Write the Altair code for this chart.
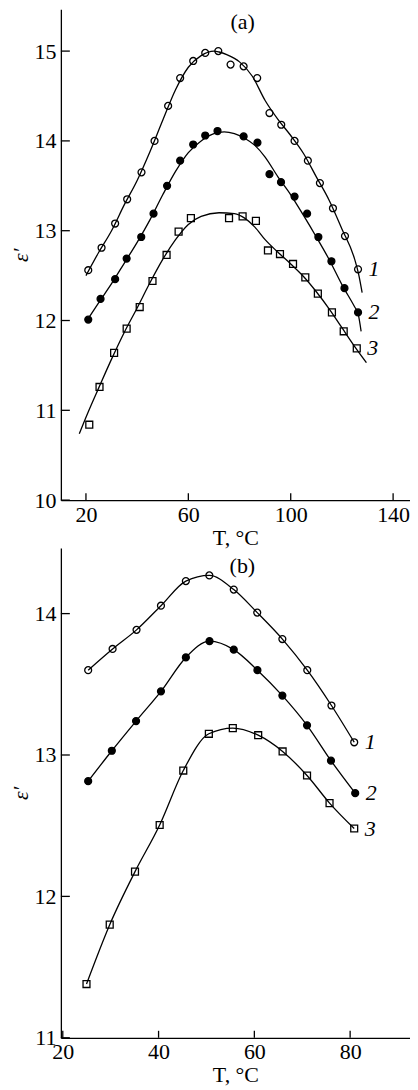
import altair as alt
import pandas as pd

FONT = "Liberation Serif"

# ---------------- Panel (a): measured points ----------------
a1_T = [20.9, 26.1, 31.4, 36.1, 41.7, 46.8, 52.1, 56.8, 61.9, 66.6, 71.7, 76.5, 81.6,
        86.9, 91.7, 96.3, 101.5, 106.7, 111.4, 116.5, 121.2, 126.3]
a1_e = [12.56, 12.81, 13.08, 13.35, 13.65, 14.00, 14.39, 14.70, 14.89, 14.98, 15.00, 14.85, 14.83,
        14.70, 14.31, 14.18, 14.00, 13.78, 13.53, 13.25, 12.94, 12.57]
a2_T = [20.9, 25.7, 31.4, 35.9, 41.6, 46.4, 51.7, 56.8, 61.9, 66.6, 71.4, 81.6, 87.0,
        91.7, 96.2, 101.5, 106.4, 110.8, 115.9, 121.0, 126.3]
a2_e = [12.01, 12.24, 12.46, 12.69, 12.93, 13.19, 13.50, 13.78, 13.96, 14.06, 14.11, 14.05, 13.98,
        13.63, 13.54, 13.38, 13.19, 12.93, 12.66, 12.36, 12.09]
a3_T = [21.3, 25.3, 31.0, 35.9, 41.0, 46.0, 51.5, 56.2, 61.0, 75.9, 81.2, 86.4, 91.1,
        95.8, 100.9, 105.7, 110.6, 116.1, 120.7, 125.8]
a3_e = [10.84, 11.26, 11.64, 11.91, 12.15, 12.44, 12.73, 12.99, 13.14, 13.14, 13.16, 13.11, 12.78,
        12.74, 12.63, 12.48, 12.30, 12.09, 11.88, 11.69]

# fitted curves of panel (a)
c1_T = [20, 25, 30, 35, 40, 45, 50, 55, 60, 65, 70, 72, 75, 80, 85, 90, 95, 100, 105, 110,
        115, 120, 125, 126.5, 127.9]
c1_e = [12.50, 12.76, 13.00, 13.29, 13.56, 13.88, 14.23, 14.57, 14.82, 14.95, 15.00, 14.99, 14.96,
        14.88, 14.72, 14.45, 14.24, 14.06, 13.86, 13.60, 13.34, 13.02, 12.68, 12.52, 12.31]
c2_T = [20.6, 25, 30, 35, 40, 45, 50, 55, 60, 65, 70, 74, 78, 82, 86, 90, 95, 100, 105, 110,
        115, 120, 125, 126.3, 127.5]
c2_e = [12.01, 12.20, 12.41, 12.64, 12.87, 13.12, 13.40, 13.66, 13.87, 14.00, 14.08, 14.10, 14.08,
        14.03, 13.95, 13.82, 13.60, 13.40, 13.17, 12.93, 12.68, 12.40, 12.15, 12.08, 11.88]
c3_T = [17.4, 21, 25, 30, 35, 40, 45, 50, 55, 60, 65, 72, 78, 82, 86, 90, 95, 100, 105, 110,
        115, 120, 125, 129.6]
c3_e = [10.74, 10.99, 11.25, 11.57, 11.87, 12.14, 12.42, 12.68, 12.90, 13.07, 13.16, 13.20, 13.19,
        13.14, 13.04, 12.90, 12.76, 12.63, 12.49, 12.32, 12.13, 11.92, 11.71, 11.53]

# ---------------- Panel (b): measured points ----------------
b1_T = [25.3, 30.4, 35.4, 40.5, 45.7, 50.6, 55.7, 60.6, 65.85, 71.05, 76.1, 80.85]
b1_e = [13.60, 13.75, 13.885, 14.056, 14.23, 14.27, 14.17, 14.007, 13.82, 13.60, 13.35, 13.09]
b2_T = [25.3, 30.24, 35.3, 40.5, 45.7, 50.64, 55.7, 60.64, 65.85, 71.0, 76.0, 81.06]
b2_e = [12.815, 13.03, 13.24, 13.45, 13.69, 13.805, 13.745, 13.60, 13.42, 13.21, 12.96, 12.73]
b3_T = [24.95, 29.8, 35.08, 40.23, 45.16, 50.5, 55.5, 60.8, 65.9, 71.0, 75.7, 80.85]
b3_e = [11.38, 11.80, 12.175, 12.505, 12.89, 13.15, 13.19, 13.14, 13.025, 12.855, 12.66, 12.48]

series_names = ["1", "2", "3"]
a_xticks = [20, 60, 100, 140]
a_yticks = [10, 11, 12, 13, 14, 15]
b_xticks = [20, 40, 60, 80]
b_yticks = [11, 12, 13, 14]
a_tag = {"T": [81.2], "eps": [15.32], "text": ["(a)"]}
b_tag = {"T": [57.5], "eps": [14.34], "text": ["(b)"]}


def frame(groups):
    rows = []
    for name, Ts, es in groups:
        for t, e in zip(Ts, es):
            rows.append({"T": t, "eps": e, "series": name})
    return pd.DataFrame(rows)


def last_points(groups):
    rows = []
    for name, Ts, es in groups:
        rows.append({"T": Ts[-1], "eps": es[-1], "series": name})
    return pd.DataFrame(rows)


def panel(pts_groups, curve_groups, xdom, ydom, xticks, yticks, W, H, tag, sq_size):
    pts = frame(pts_groups)
    curve = frame(curve_groups)
    labs = last_points(pts_groups)
    xs = alt.Scale(domain=xdom, nice=False, zero=False)
    ys = alt.Scale(domain=ydom, nice=False, zero=False)
    xaxis = alt.Axis(values=xticks, ticks=False, grid=False, labelFlush=False,
                     domainColor="black", domainWidth=1.3, labelFont=FONT, labelFontSize=22,
                     labelColor="black", labelPadding=4, title="T, °C", titleFont=FONT,
                     titleFontSize=22, titleFontWeight="normal", titleColor="black",
                     titlePadding=2)
    yaxis = alt.Axis(values=yticks, ticks=False, grid=False, labelFlush=False,
                     domainColor="black", domainWidth=1.3, labelFont=FONT, labelFontSize=22,
                     labelColor="black", labelPadding=5, title="ε′", titleFont=FONT,
                     titleFontSize=22, titleFontWeight="normal", titleFontStyle="italic",
                     titleColor="black", titlePadding=1)
    X = lambda f: alt.X(f, scale=xs, axis=xaxis, title="T, °C")
    Y = lambda f: alt.Y(f, scale=ys, axis=yaxis, title="ε′")

    line = alt.Chart(curve).mark_line(color="black", strokeWidth=1.3, interpolate="monotone").encode(
        x=X("T:Q"), y=Y("eps:Q"), detail="series:N",
    )
    points = alt.Chart(pts).mark_point(filled=True, stroke="black", strokeWidth=1.3, opacity=1).encode(
        x=X("T:Q"), y=Y("eps:Q"),
        shape=alt.Shape("series:N", scale=alt.Scale(domain=series_names,
                                                     range=["circle", "circle", "square"]), legend=None),
        fill=alt.Fill("series:N", scale=alt.Scale(domain=series_names,
                                                   range=["white", "black", "white"]), legend=None),
        size=alt.Size("series:N", scale=alt.Scale(domain=series_names,
                                                   range=[48, 48, sq_size]), legend=None),
    )
    labels = alt.Chart(labs).mark_text(font=FONT, fontSize=22, fontStyle="italic", color="black",
                                       dx=16, align="center", baseline="middle").encode(
        x=X("T:Q"), y=Y("eps:Q"), text="series:N",
    )
    tagtext = alt.Chart(pd.DataFrame(tag)).mark_text(font=FONT, fontSize=22, color="black",
                                                     align="center", baseline="middle").encode(
        x=X("T:Q"), y=Y("eps:Q"), text="text:N",
    )
    ytick = alt.Chart(pd.DataFrame({"v": yticks})).mark_rule(color="black", strokeWidth=1.3).encode(
        y=Y("v:Q"), x=alt.value(0), x2=alt.value(9),
    )
    xtick = alt.Chart(pd.DataFrame({"v": xticks})).mark_rule(color="black", strokeWidth=1.3).encode(
        x=X("v:Q"), y=alt.value(H), y2=alt.value(H - 7),
    )
    return alt.layer(points, line, labels, tagtext, ytick, xtick).properties(width=W, height=H)


panel_a = panel(
    [("1", a1_T, a1_e), ("2", a2_T, a2_e), ("3", a3_T, a3_e)],
    [("1", c1_T, c1_e), ("2", c2_T, c2_e), ("3", c3_T, c3_e)],
    [10.2, 146.6], [10, 15.465], a_xticks, a_yticks, 350, 492, a_tag, 64,
)
panel_b = panel(
    [("1", b1_T, b1_e), ("2", b2_T, b2_e), ("3", b3_T, b3_e)],
    [("1", b1_T, b1_e), ("2", b2_T, b2_e), ("3", b3_T, b3_e)],
    [19.6, 92.5], [11, 14.464], b_xticks, b_yticks, 350, 491, b_tag, 80,
)

chart = alt.vconcat(panel_a, panel_b, spacing=0).configure_view(stroke=None).properties(
    background="white", padding={"left": 2, "top": 0, "right": 0, "bottom": 0}
)

chart.save("out.html", embed_options={"renderer": "svg", "actions": False})
